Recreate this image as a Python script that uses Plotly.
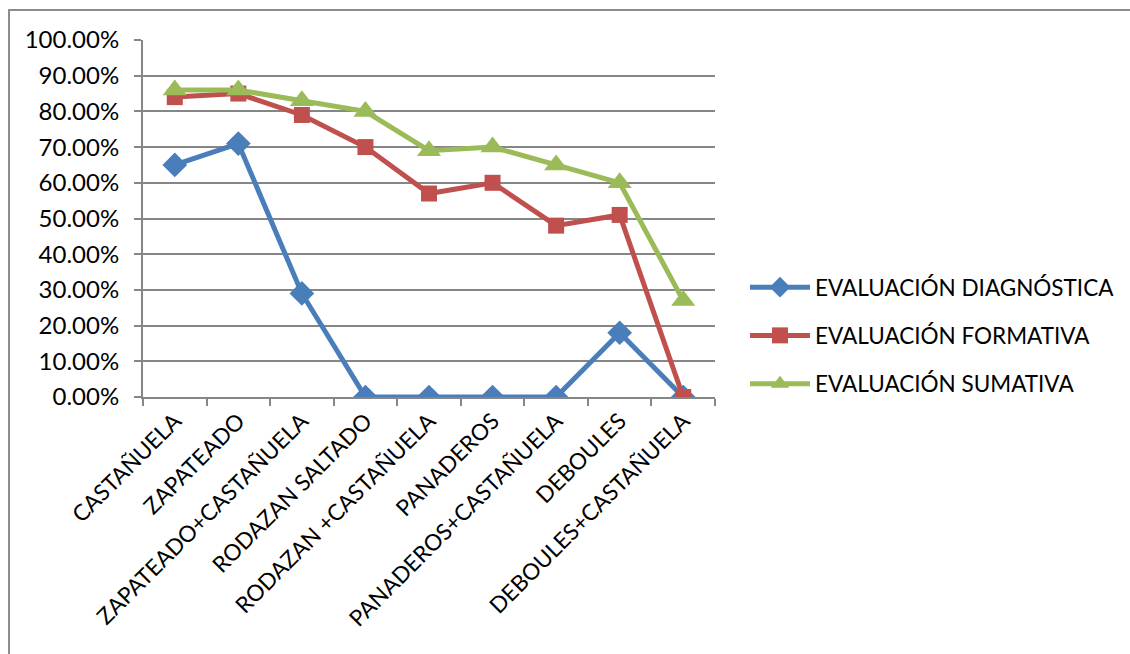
import plotly.graph_objects as go

categorias = [
    "CASTAÑUELA",
    "ZAPATEADO",
    "ZAPATEADO+CASTAÑUELA",
    "RODAZAN SALTADO",
    "RODAZAN +CASTAÑUELA",
    "PANADEROS",
    "PANADEROS+CASTAÑUELA",
    "DEBOULES",
    "DEBOULES+CASTAÑUELA",
]
diagnostica = [0.65, 0.71, 0.29, 0.0, 0.0, 0.0, 0.0, 0.18, 0.0]
formativa = [0.84, 0.85, 0.79, 0.70, 0.57, 0.60, 0.48, 0.51, 0.0]
sumativa = [0.86, 0.86, 0.83, 0.80, 0.69, 0.70, 0.65, 0.60, 0.27]

series = [
    ("EVALUACIÓN DIAGNÓSTICA", diagnostica, "#4A7EBB", "diamond", 19),
    ("EVALUACIÓN FORMATIVA", formativa, "#C0504D", "square", 16),
    ("EVALUACIÓN SUMATIVA", sumativa, "#9BBB59", "triangle-up", 21),
]

FONT = "Lato"
TXT = 22.5
W, H = 1130, 654
L, R, T, B = 143, 415, 40, 257

fig = go.Figure()
for i, (name, vals, color, symbol, size) in enumerate(series):
    fig.add_trace(go.Scatter(
        x=categorias, y=vals, name=name, mode="lines+markers",
        line=dict(color=color, width=5),
        marker=dict(symbol=symbol, size=size, color=color, line=dict(width=0)),
        legendgroup=f"g{i}",
    ))

pw = W - L - R
ph = H - T - B

def px_x(p):
    return (p - L) / pw

def px_y(p):
    return (H - B - p) / ph

fig.update_layout(
    width=W, height=H,
    margin=dict(l=L, r=R, t=T, b=B, autoexpand=False),
    paper_bgcolor="white", plot_bgcolor="white",
    font=dict(family=FONT, size=TXT, color="#000000"),
    showlegend=True,
    legend=dict(
        x=px_x(745), y=px_y(266), xanchor="left", yanchor="top",
        tracegroupgap=16, itemwidth=60,
        font=dict(family=FONT, size=TXT, color="#000000"),
        bgcolor="rgba(0,0,0,0)",
    ),
    xaxis=dict(
        type="category", tickangle=-45, showgrid=False,
        showline=True, linecolor="#868686", linewidth=2,
        ticks="outside", tickson="boundaries", ticklen=7, tickcolor="#868686", tickwidth=2,
        tickfont=dict(family=FONT, size=TXT, color="#000000"),
        range=[-0.5, len(categorias) - 0.5],
    ),
    yaxis=dict(
        range=[0, 1.0], dtick=0.1, tickformat=".2%",
        showgrid=True, gridcolor="#868686", gridwidth=2,
        showline=True, linecolor="#868686", linewidth=2,
        ticks="outside", ticklen=7, tickcolor="#868686", tickwidth=2,
        ticklabelstandoff=10,
        tickfont=dict(family=FONT, size=24, color="#000000"),
        zeroline=False,
    ),
    shapes=[dict(
        type="rect", xref="paper", yref="paper",
        x0=px_x(9), x1=px_x(1140), y0=px_y(10), y1=px_y(670),
        line=dict(color="#8C8C8C", width=2), fillcolor="rgba(0,0,0,0)", layer="below",
    )],
)

fig.write_html("out.html")
